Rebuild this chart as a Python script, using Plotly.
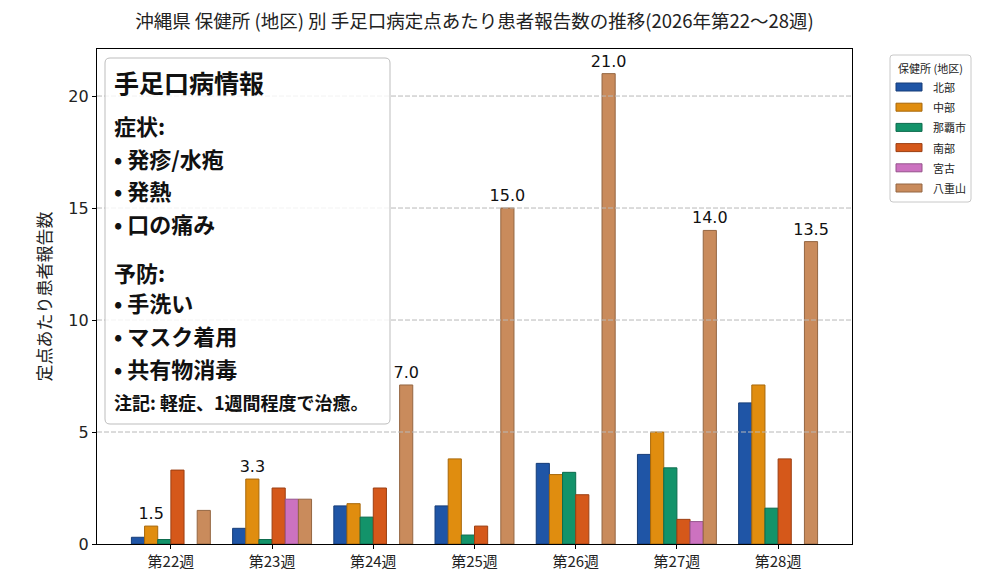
import plotly.graph_objects as go

weeks = ["第22週", "第23週", "第24週", "第25週", "第26週", "第27週", "第28週"]
regions = ["北部", "中部", "那覇市", "南部", "宮古", "八重山"]

hokubu = [0.3, 0.7, 1.7, 1.7, 3.6, 4.0, 6.3]
chubu = [0.8, 2.9, 1.8, 3.8, 3.1, 5.0, 7.1]
naha = [0.2, 0.2, 1.2, 0.4, 3.2, 3.4, 1.6]
nanbu = [3.3, 2.5, 2.5, 0.8, 2.2, 1.1, 3.8]
miyako = [None, 2.0, None, None, None, 1.0, None]
yaeyama = [1.5, 2.0, 7.1, 15.0, 21.0, 14.0, 13.5]

# value labels as they appear on the chart (on 中部 for wk22-23, on 八重山 after)
labels_chubu = ["1.5", "3.3", "", "", "", "", ""]
labels_yaeyama = ["", "", "7.0", "15.0", "21.0", "14.0", "13.5"]

info_lines = ["手足口病情報", "症状:", "• 発疹/水疱", "• 発熱", "• 口の痛み",
              "予防:", "• 手洗い", "• マスク着用", "• 共有物消毒",
              "注記: 軽症、1週間程度で治癒。"]

series = [hokubu, chubu, naha, nanbu, miyako, yaeyama]
colors = ["#1f55a6", "#e08d0f", "#13936a", "#d5581a", "#cc72c0", "#c98b5c"]
edges = ["#163d78", "#a8680a", "#0d6b4d", "#9c3f12", "#96538c", "#946642"]
texts = [None, labels_chubu, None, None, None, labels_yaeyama]

num_font = "DejaVu Sans, Noto Sans CJK JP"
cjk_font = "Noto Sans CJK JP"

fig = go.Figure()
for name, vals, c, e, t in zip(regions, series, colors, edges, texts):
    fig.add_trace(go.Bar(
        x=weeks, y=vals, name=name, showlegend=False,
        marker=dict(color=c, line=dict(color=e, width=1)),
        text=t, textposition="outside" if t else None,
        textfont=dict(family=num_font, size=16, color="#111"),
        constraintext="none", cliponaxis=False,
    ))

# page is shown with an 8px body margin, so figure px = page px - 8
OFF = 8
# plot area in page pixels: x 97..852, y 49..544
L, R, T, B = 97, 852, 49, 544
W, H = R - L, B - T
px = lambda v: (v - L) / W
py = lambda v: (B - v) / H

# dashed grid drawn above the bars, like the original
for g in [5, 10, 15, 20]:
    fig.add_hline(y=g, line=dict(color="#b8b8b8", width=1, dash="5px,2px"), layer="above")


def rounded_box(xa, xb, ya, yb, r, line, fill):
    x0, x1, y0, y1 = px(xa), px(xb), py(yb), py(ya)
    rx, ry = r / W, r / H
    path = (f"M{x0+rx},{y0} L{x1-rx},{y0} Q{x1},{y0} {x1},{y0+ry} "
            f"L{x1},{y1-ry} Q{x1},{y1} {x1-rx},{y1} L{x0+rx},{y1} "
            f"Q{x0},{y1} {x0},{y1-ry} L{x0},{y0+ry} Q{x0},{y0} {x0+rx},{y0} Z")
    fig.add_shape(type="path", path=path, xref="paper", yref="paper",
                  line=line, fillcolor=fill, layer="above")


# info box (rounded, semi transparent)
rounded_box(105, 390, 58, 424, 5, dict(color="#bdbdbd", width=1), "rgba(255,255,255,0.82)")

line_y = [82, 125, 158, 190, 223, 272, 302, 335, 368, 402]
line_size = [25, 22, 22, 22, 22, 22, 22, 22, 22, 18]
for txt, yy, sz in zip(info_lines, line_y, line_size):
    fig.add_annotation(text=f"<b>{txt}</b>", x=px(112), y=py(yy), xref="paper", yref="paper",
                       xanchor="left", yanchor="middle", showarrow=False,
                       font=dict(family=cjk_font, size=sz, color="#111"))

# legend box with wide swatches
rounded_box(890, 971, 55, 202, 3, dict(color="#c8c8c8", width=1), "white")
fig.add_annotation(text="保健所 (地区)", x=px(896), y=py(68), xref="paper", yref="paper",
                   xanchor="left", yanchor="middle", showarrow=False,
                   font=dict(family=cjk_font, size=11, color="#222"))
for i, (name, c, e) in enumerate(zip(regions, colors, edges)):
    yc = 87 + i * 20.2
    fig.add_shape(type="rect", x0=px(896), x1=px(922), y0=py(yc + 4), y1=py(yc - 4),
                  xref="paper", yref="paper", fillcolor=c, line=dict(color=e, width=1))
    fig.add_annotation(text=name, x=px(931), y=py(yc), xref="paper", yref="paper",
                       xanchor="left", yanchor="middle", showarrow=False,
                       font=dict(family=cjk_font, size=11, color="#222"))

fig.update_layout(
    width=1000, height=583,
    margin=dict(l=L - OFF, r=1000 - R + OFF, t=T - OFF, b=583 - B + OFF),
    paper_bgcolor="white", plot_bgcolor="white",
    barmode="group", bargap=0.22, bargroupgap=0,
    showlegend=False,
    title=dict(text="沖縄県 保健所 (地区) 別 手足口病定点あたり患者報告数の推移(2026年第22～28週)",
               x=0.5, xref="paper", xanchor="center", y=1 - (22 - OFF) / 583, yanchor="middle",
               font=dict(family=cjk_font, size=18.5, color="#222")),
    font=dict(family=num_font, color="#222"),
)
fig.update_xaxes(type="category", range=[-0.73, 6.73], showgrid=False,
                 showline=True, linecolor="black", linewidth=1.3, mirror=True,
                 ticks="outside", ticklen=4, tickcolor="black",
                 tickfont=dict(family=cjk_font, size=15, color="#222"))
fig.update_yaxes(range=[0, 22.1], tickvals=[0, 5, 10, 15, 20], showgrid=False, zeroline=False,
                 showline=True, linecolor="black", linewidth=1.3, mirror=True,
                 ticks="outside", ticklen=4, tickcolor="black",
                 tickfont=dict(family=num_font, size=16, color="#222"),
                 title=dict(text="定点あたり患者報告数", standoff=12,
                            font=dict(family=cjk_font, size=17, color="#222")))

fig.write_html("out.html")
